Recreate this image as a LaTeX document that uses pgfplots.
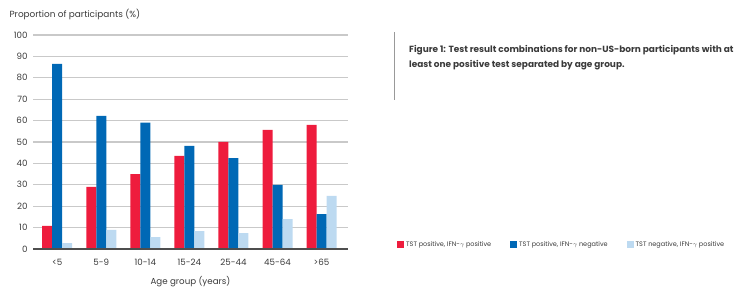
\documentclass[border=0pt]{standalone}
\usepackage{pgfplots}
\pgfplotsset{compat=1.18}
\usepackage{fontspec}
\setmainfont{Poppins}
\definecolor{cred}{HTML}{EE1C3D}
\definecolor{cblue}{HTML}{0068B5}
\definecolor{clight}{HTML}{BDDAF1}
\definecolor{ctext}{HTML}{3A3A3A}
\definecolor{cgrid}{HTML}{C9C9C9}
\begin{document}
\begin{tikzpicture}
\useasboundingbox (0pt,0pt) rectangle (756pt,289pt);
\begin{axis}[
  at={(33pt,40pt)}, anchor=south west,
  scale only axis, width=315pt, height=214pt,
  xmin=-0.55, xmax=6.6, ymin=0, ymax=100,
  ytick={0,10,...,100},
  xtick={0,...,6},
  xticklabels={<5,5-9,10-14,15-24,25-44,45-64,>65},
  axis line style={draw=none},
  major tick length=0pt,
  ymajorgrids, grid style={cgrid, line width=1.3pt},
  ybar=0pt, bar width=10pt,
  tick label style={font=\fontsize{8.7}{10}\selectfont, text=ctext},
  /pgf/number format/assume math mode=true,
  yticklabel style={xshift=-2pt},
  xticklabel style={yshift=-7pt},
  xlabel={Age group (years)}, xlabel style={font=\fontsize{8.7}{10}\selectfont, text=ctext, yshift=-4pt},
  clip=false,
  legend columns=3,
  legend style={at={(1.146,0.02)}, anchor=west, draw=none, fill=none,
    font=\fontsize{6.5}{7}\selectfont, text=ctext,
    /tikz/every even column/.append style={column sep=17pt}},
  legend image code/.code={\fill[#1] (0pt,-3pt) rectangle (7pt,4pt);},
]
\addplot[fill=cred, draw=none] coordinates {(0,10.8) (1,29) (2,35) (3,43.5) (4,50) (5,55.7) (6,58)};
\addplot[fill=cblue, draw=none] coordinates {(0,86.5) (1,62.2) (2,59) (3,48.2) (4,42.5) (5,30) (6,16.3)};
\addplot[fill=clight, draw=none] coordinates {(0,2.7) (1,8.9) (2,5.6) (3,8.3) (4,7.4) (5,14) (6,24.8)};
\legend{{TST positive, IFN-$\gamma$ positive}, {TST positive, IFN-$\gamma$ negative}, {TST negative, IFN-$\gamma$ positive}}
\draw[color=ctext!90, line width=1.2pt] (axis cs:-0.55,0) -- (axis cs:6.6,0);
\end{axis}
\node[anchor=west, text=ctext, font=\fontsize{8.9}{10}\selectfont] at (6pt,274pt) {Proportion of participants (\%)};
\fill[gray!80] (393.5pt,189pt) rectangle (395pt,257pt);
\node[anchor=north west, text=ctext, font=\fontsize{8.95}{15}\selectfont\bfseries, align=left, inner sep=0pt] at (409pt,243.5pt)
  {Figure 1: Test result combinations for non-US-born participants with at\\least one positive test separated by age group.};
\end{tikzpicture}
\end{document}
